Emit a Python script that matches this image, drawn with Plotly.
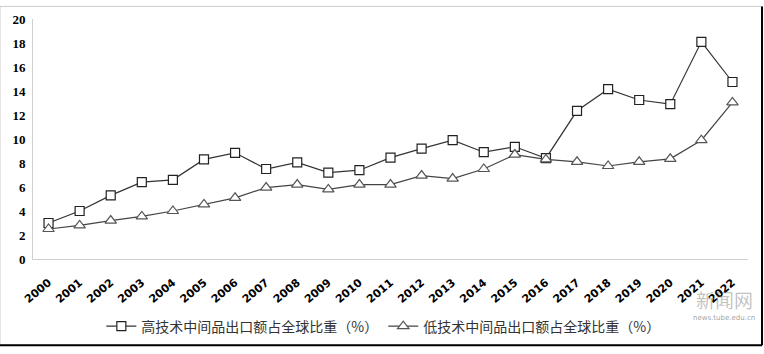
import plotly.graph_objects as go

years = [str(y) for y in range(2000, 2023)]
high_tech = [3.0, 4.0, 5.3, 6.4, 6.6, 8.3, 8.85, 7.5, 8.05, 7.2, 7.4, 8.45, 9.2, 9.9, 8.9,
             9.35, 8.4, 12.35, 14.15, 13.25, 12.9, 18.1, 14.75]
low_tech = [2.5, 2.8, 3.2, 3.55, 4.0, 4.55, 5.1, 5.95, 6.2, 5.8, 6.2, 6.2, 6.95, 6.7, 7.5,
            8.7, 8.3, 8.1, 7.75, 8.1, 8.35, 9.9, 13.05]
name_high = "高技术中间品出口额占全球比重（%）"
name_low = "低技术中间品出口额占全球比重（%）"
y_ticks = list(range(0, 21, 2))

fig = go.Figure()
fig.add_trace(go.Scatter(
    x=years, y=high_tech, name=name_high, mode="lines+markers",
    line=dict(color="#333333", width=1.2),
    marker=dict(symbol="square", size=9, color="white", line=dict(color="#222222", width=1.2)),
))
fig.add_trace(go.Scatter(
    x=years, y=low_tech, name=name_low, mode="lines+markers",
    line=dict(color="#444444", width=1.2),
    marker=dict(symbol="triangle-up", size=10, color="white", line=dict(color="#555555", width=1.2)),
))

fig.update_layout(
    width=764, height=354,
    margin=dict(l=33, r=16, t=15, b=91),
    paper_bgcolor="white", plot_bgcolor="white",
    font=dict(family="Liberation Serif", color="#000000"),
    showlegend=True,
    legend=dict(
        orientation="h", x=0.49, xanchor="center", y=-0.215, yanchor="top",
        font=dict(family="Noto Sans CJK SC", size=14, color="#333333"),
        itemwidth=30, traceorder="normal", bgcolor="rgba(0,0,0,0)",
    ),
    xaxis=dict(
        type="category", range=[-0.5, 22.5], tickangle=-40,
        tickfont=dict(family="DejaVu Sans", size=11, color="#000000", weight="bold"),
        showgrid=False, showline=True, linecolor="#d0d0d0", linewidth=1,
        ticks="", zeroline=False, ticklabelstandoff=12,
    ),
    yaxis=dict(
        range=[0, 20], tickvals=y_ticks, ticktext=[str(v) for v in y_ticks],
        tickfont=dict(family="Liberation Serif", size=13, color="#000000", weight="bold"),
        showgrid=False, showline=True, linecolor="#d0d0d0", linewidth=1,
        ticks="", zeroline=False, ticklabelstandoff=4,
    ),
    annotations=[
        dict(text="新闻网", xref="paper", yref="paper", x=1.01, y=-0.17,
             xanchor="right", yanchor="middle", showarrow=False,
             font=dict(family="Noto Sans CJK SC", size=19, color="rgba(120,120,120,0.45)")),
        dict(text="news.tube.edu.cn", xref="paper", yref="paper", x=1.012, y=-0.245,
             xanchor="right", yanchor="middle", showarrow=False,
             font=dict(family="DejaVu Sans", size=7, color="rgba(90,90,90,0.6)")),
    ],
    shapes=[
        dict(type="rect", xref="paper", yref="paper", x0=-33/715, x1=1+14/715,
             y0=-89/248, y1=1+13/248, line=dict(color="#cccccc", width=1)),
        dict(type="line", xref="paper", yref="paper", x0=-33/715, x1=1+14/715,
             y0=-89/248, y1=-89/248, line=dict(color="#000000", width=2)),
        dict(type="line", xref="paper", yref="paper", x0=1+14/715, x1=1+14/715,
             y0=-89/248, y1=1+13/248, line=dict(color="#000000", width=2)),
    ],
)

fig.write_html("out.html")
